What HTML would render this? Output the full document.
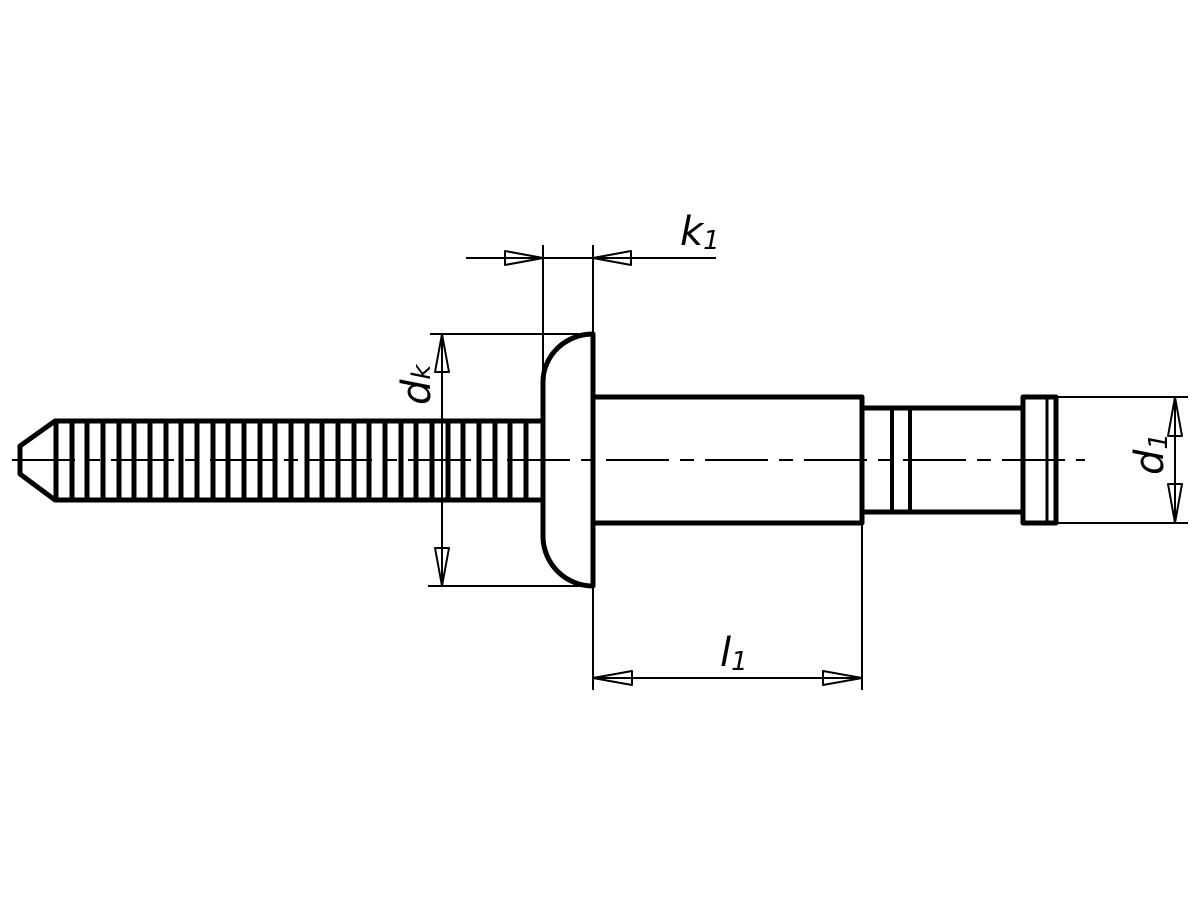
<!DOCTYPE html>
<html><head><style>html,body{margin:0;padding:0;background:#fff}svg{display:block}</style></head>
<body>
<svg width="1200" height="900" viewBox="0 0 1200 900" xmlns="http://www.w3.org/2000/svg">
<rect width="1200" height="900" fill="#fff"/>
<g fill="none" stroke="#000" stroke-linejoin="round">
<line x1="12" y1="460" x2="1085" y2="460" stroke-width="2" stroke-dasharray="63 11 14 11"/>
<path d="M543 421 H55 L20 446 V474 L55 500 H543" stroke-width="5"/>
<g stroke-width="5">
<line x1="56" y1="421" x2="56" y2="500"/><line x1="72" y1="421" x2="72" y2="500"/><line x1="87" y1="421" x2="87" y2="500"/><line x1="103" y1="421" x2="103" y2="500"/><line x1="119" y1="421" x2="119" y2="500"/><line x1="134" y1="421" x2="134" y2="500"/><line x1="150" y1="421" x2="150" y2="500"/><line x1="166" y1="421" x2="166" y2="500"/><line x1="181" y1="421" x2="181" y2="500"/><line x1="197" y1="421" x2="197" y2="500"/><line x1="213" y1="421" x2="213" y2="500"/><line x1="228" y1="421" x2="228" y2="500"/><line x1="244" y1="421" x2="244" y2="500"/><line x1="260" y1="421" x2="260" y2="500"/><line x1="275" y1="421" x2="275" y2="500"/><line x1="291" y1="421" x2="291" y2="500"/><line x1="307" y1="421" x2="307" y2="500"/><line x1="322" y1="421" x2="322" y2="500"/><line x1="338" y1="421" x2="338" y2="500"/><line x1="354" y1="421" x2="354" y2="500"/><line x1="369" y1="421" x2="369" y2="500"/><line x1="385" y1="421" x2="385" y2="500"/><line x1="401" y1="421" x2="401" y2="500"/><line x1="416" y1="421" x2="416" y2="500"/><line x1="432" y1="421" x2="432" y2="500"/><line x1="448" y1="421" x2="448" y2="500"/><line x1="463" y1="421" x2="463" y2="500"/><line x1="479" y1="421" x2="479" y2="500"/><line x1="495" y1="421" x2="495" y2="500"/><line x1="510" y1="421" x2="510" y2="500"/><line x1="526" y1="421" x2="526" y2="500"/>
</g>
<path d="M593 334 V586 A50 50 0 0 1 543 538 V382 A50 48 0 0 1 593 334 Z" stroke-width="5"/>
<path d="M593 397 H862 V523 H593" stroke-width="5"/>
<path d="M862 408 H1023 M862 512 H1023" stroke-width="5"/>
<line x1="892" y1="408" x2="892" y2="512" stroke-width="4"/>
<line x1="910" y1="408" x2="910" y2="512" stroke-width="4"/>
<rect x="1023" y="397" width="33" height="126" stroke-width="5"/>
<line x1="1047" y1="397" x2="1047" y2="523" stroke-width="3"/>
<g stroke-width="2">
<line x1="466" y1="258" x2="716" y2="258"/>
<line x1="543" y1="245" x2="543" y2="400"/>
<line x1="593" y1="245" x2="593" y2="334"/>
<line x1="430" y1="334" x2="593" y2="334"/>
<line x1="428" y1="586" x2="580" y2="586"/>
<line x1="442" y1="334" x2="442" y2="586"/>
<line x1="593" y1="586" x2="593" y2="690"/>
<line x1="862" y1="523" x2="862" y2="690"/>
<line x1="593" y1="678" x2="862" y2="678"/>
<line x1="1056" y1="397" x2="1188" y2="397"/>
<line x1="1056" y1="523" x2="1188" y2="523"/>
<line x1="1175" y1="397" x2="1175" y2="523"/>
<path d="M505 251 L543 258 L505 265 Z"/>
<path d="M631 251 L593 258 L631 265 Z"/>
<path d="M435 372 L442 334 L449 372 Z"/>
<path d="M435 548 L442 586 L449 548 Z"/>
<path d="M632 671 L593 678 L632 685 Z"/>
<path d="M823 671 L862 678 L823 685 Z"/>
<path d="M1168 436 L1175 397 L1182 436 Z"/>
<path d="M1168 484 L1175 523 L1182 484 Z"/>
</g>
</g>
<g font-family="DejaVu Sans, Liberation Sans, sans-serif" font-style="italic" font-weight="200" fill="#000">
<text x="680" y="245" font-size="40">k<tspan font-size="26" dy="4">1</tspan></text>
<text x="720" y="666" font-size="40">l<tspan font-size="26" dy="4">1</tspan></text>
<text transform="translate(430 405) rotate(-90)" font-size="40">d<tspan font-size="26">k</tspan></text>
<text transform="translate(1163 475) rotate(-90)" font-size="40">d<tspan font-size="26" dy="4">1</tspan></text>
</g>
</svg>
</body></html>
